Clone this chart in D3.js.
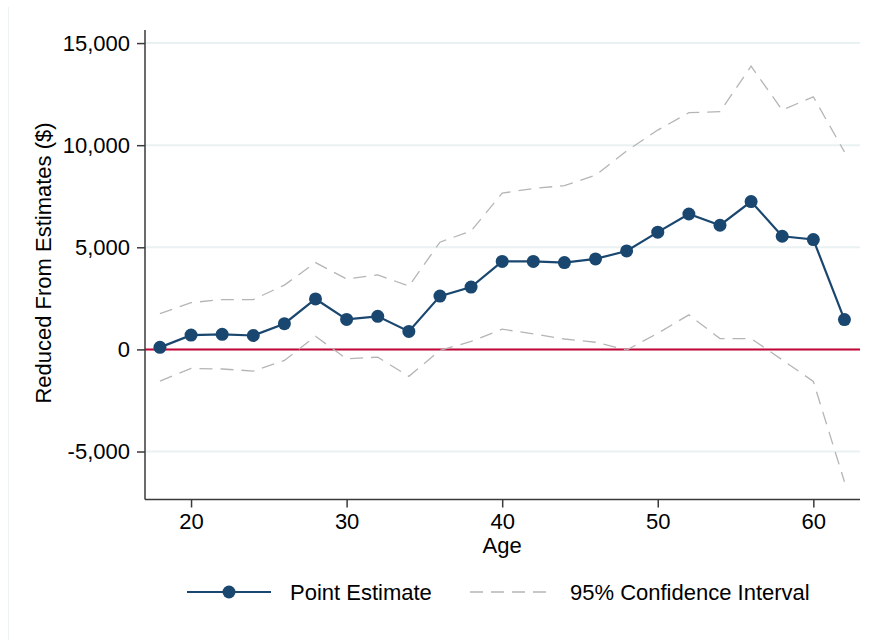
<!DOCTYPE html>
<html>
<head>
<meta charset="utf-8">
<script src="https://cdn.jsdelivr.net/npm/d3@7"></script>
<style>
  html, body { margin: 0; padding: 0; background: #fff; }
  svg { display: block; font-family: "Liberation Sans", Arial, Helvetica, sans-serif; }
</style>
</head>
<body>
<svg id="chart" width="875" height="640"></svg>
<script>
// Age groups and estimates
const ages = [18, 20, 22, 24, 26, 28, 30, 32, 34, 36, 38, 40, 42, 44, 46, 48, 50, 52, 54, 56, 58, 60, 62];
const pointEstimate = [100, 700, 740, 680, 1260, 2470, 1470, 1620, 880, 2610, 3050, 4310, 4310, 4250, 4430, 4820, 5740, 6630, 6080, 7240, 5540, 5380, 1460];
const ciUpper = [1750, 2290, 2440, 2440, 3150, 4250, 3450, 3650, 3100, 5250, 5800, 7650, 7880, 8020, 8530, 9720, 10740, 11590, 11640, 13870, 11720, 12370, 9670];
const ciLower = [-1550, -930, -960, -1060, -540, 640, -460, -380, -1320, -50, 390, 990, 760, 510, 350, -30, 790, 1690, 530, 530, -510, -1570, -6480];
const xTicks = [20, 30, 40, 50, 60];
const yTicks = [-5000, 0, 5000, 10000, 15000];
const legendLabels = ["Point Estimate", "95% Confidence Interval"];

const navy = "#1a476f", red = "#c10534", grey = "#b5b5b5", gridCol = "#eaf1f2";
const fs = 22;

const svg = d3.select("#chart");

// faint outer frame edge
svg.append("line").attr("x1", 8.5).attr("x2", 8.5).attr("y1", 7).attr("y2", 640)
  .attr("stroke", "#edf3f3").attr("stroke-width", 1);

const plotL = 145, plotR = 860, plotT = 30, plotB = 499.5;
const x = d3.scaleLinear().domain([17.04, 63.0]).range([plotL, plotR]);
const y = d3.scaleLinear().domain([-7350, 15640]).range([plotB, plotT]);

// horizontal gridlines
svg.append("g").selectAll("line").data(yTicks).join("line")
  .attr("x1", plotL).attr("x2", plotR)
  .attr("y1", d => y(d)).attr("y2", d => y(d))
  .attr("stroke", gridCol).attr("stroke-width", 2);

// zero reference line
svg.append("line").attr("x1", plotL).attr("x2", plotR)
  .attr("y1", y(0)).attr("y2", y(0))
  .attr("stroke", red).attr("stroke-width", 2);

// confidence bounds
const line = d3.line().x((d, i) => x(ages[i])).y(d => y(d));
[ciUpper, ciLower].forEach(arr => {
  svg.append("path").datum(arr).attr("d", line)
    .attr("fill", "none").attr("stroke", grey).attr("stroke-width", 1.3)
    .attr("stroke-dasharray", "13,8");
});

// point estimate line and markers
svg.append("path").datum(pointEstimate).attr("d", line)
  .attr("fill", "none").attr("stroke", navy).attr("stroke-width", 2.2);
svg.append("g").selectAll("circle").data(pointEstimate).join("circle")
  .attr("cx", (d, i) => x(ages[i])).attr("cy", d => y(d)).attr("r", 6.5)
  .attr("fill", navy);

// axes (hyphen-minus for negatives)
const fmt = d => d3.format(",")(d).replace("\u2212", "-");
const yAxis = svg.append("g").attr("transform", `translate(${plotL},0)`)
  .call(d3.axisLeft(y).tickValues(yTicks).tickSize(8).tickPadding(7).tickFormat(fmt).tickSizeOuter(0));
const xAxis = svg.append("g").attr("transform", `translate(0,${plotB})`)
  .call(d3.axisBottom(x).tickValues(xTicks).tickSize(8).tickPadding(5.5).tickSizeOuter(0));
[xAxis, yAxis].forEach(g => {
  g.selectAll(".domain").attr("stroke", "#3a3a3a").attr("stroke-width", 1.5);
  g.selectAll(".tick line").attr("stroke", "#3a3a3a").attr("stroke-width", 1.5);
  g.selectAll(".tick text").attr("fill", "#000").attr("font-size", fs)
    .attr("font-family", "Liberation Sans, Arial, sans-serif");
});
yAxis.select(".domain").attr("d", `M0,${plotT}V${plotB}`);
xAxis.select(".domain").attr("d", `M${plotL},0H${plotR}`);

// axis titles
svg.append("text").attr("x", x(40)).attr("y", 553).attr("text-anchor", "middle")
  .attr("font-size", fs).text("Age");
svg.append("text").attr("transform", `translate(51,263) rotate(-90)`)
  .attr("text-anchor", "middle").attr("font-size", fs).text("Reduced From Estimates ($)");

// legend
const ly = 592;
const lg = svg.append("g");
lg.append("line").attr("x1", 187).attr("x2", 271).attr("y1", ly).attr("y2", ly)
  .attr("stroke", navy).attr("stroke-width", 2.2);
lg.append("circle").attr("cx", 229).attr("cy", ly).attr("r", 6.5).attr("fill", navy);
lg.append("text").attr("x", 290).attr("y", ly + 8).attr("font-size", fs).text(legendLabels[0]);
lg.append("line").attr("x1", 470).attr("x2", 553).attr("y1", ly).attr("y2", ly)
  .attr("stroke", grey).attr("stroke-width", 1.3).attr("stroke-dasharray", "13,8");
lg.append("text").attr("x", 570).attr("y", ly + 8).attr("font-size", fs).text(legendLabels[1]);
</script>
</body>
</html>
